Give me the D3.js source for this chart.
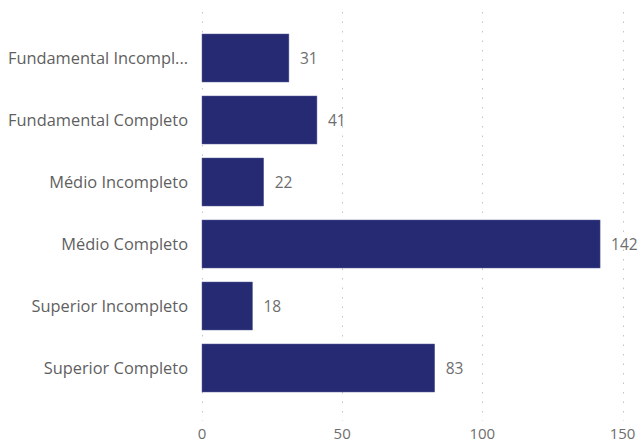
<!DOCTYPE html>
<html><head><meta charset="utf-8">
<script src="https://cdn.jsdelivr.net/npm/d3@7"></script>
<style>body{margin:0;background:#fff}svg{display:block}text{font-family:"Open Sans",sans-serif}</style>
</head><body><svg id="c" width="642" height="443"></svg>
<script>
const categories = ["Fundamental Incompleto","Fundamental Completo","Médio Incompleto","Médio Completo","Superior Incompleto","Superior Completo"];
const displayLabels = ["Fundamental Incompl...","Fundamental Completo","Médio Incompleto","Médio Completo","Superior Incompleto","Superior Completo"];
const values = [31,41,22,142,18,83];
const tickValues = [0,50,100,150];

const svg = d3.select("#c");
const x = d3.scaleLinear().domain([0,150]).range([202,622.5]);
const y = d3.scaleBand().domain(categories).range([27,399]).paddingInner(0.226).paddingOuter(0.113);

// gridlines
svg.append("g").selectAll("line").data(tickValues).join("line")
  .attr("x1",d=>Math.round(x(d))+0.5).attr("x2",d=>Math.round(x(d))+0.5).attr("y1",12).attr("y2",421)
  .attr("stroke","#c4c4c4").attr("stroke-width",1).attr("stroke-dasharray","1.5,8");

// bars
svg.append("g").selectAll("rect").data(values).join("rect")
  .attr("x",x(0)).attr("y",(d,i)=>y(categories[i]))
  .attr("width",d=>x(d)-x(0)).attr("height",y.bandwidth())
  .attr("fill","#252a72").attr("stroke","#5a5f98").attr("stroke-width",0.5);

// value labels
svg.append("g").selectAll("text").data(values).join("text")
  .attr("x",d=>x(d)+11).attr("y",(d,i)=>y(categories[i])+y.bandwidth()/2)
  .attr("dy","0.36em").attr("fill","#6e6e6e").attr("font-size",15.5).text(d=>d);

// category labels
svg.append("g").selectAll("text").data(displayLabels).join("text")
  .attr("x",188).attr("y",(d,i)=>y(categories[i])+y.bandwidth()/2)
  .attr("dy","0.36em").attr("text-anchor","end").attr("fill","#5f5f5f").attr("font-size",16.4).text(d=>d);

// x tick labels
svg.append("g").selectAll("text").data(tickValues).join("text")
  .attr("x",d=>x(d)).attr("y",438.5).attr("text-anchor","middle")
  .attr("fill","#6e6e6e").attr("font-size",15).text(d=>d);
</script></body></html>
